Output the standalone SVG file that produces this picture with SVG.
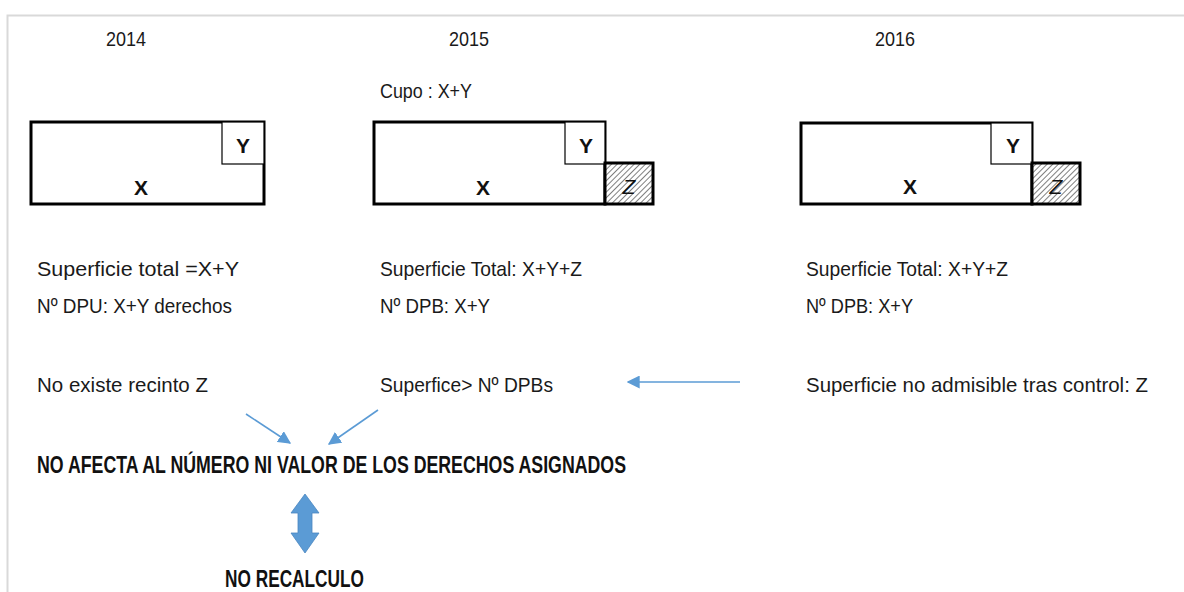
<svg xmlns="http://www.w3.org/2000/svg" width="1184" height="592" viewBox="0 0 1184 592">
<style>
.t{font-family:"Liberation Sans",Arial,sans-serif;font-size:21px;fill:#1a1a1a}
.b{font-family:"Liberation Sans",Arial,sans-serif;font-size:24px;font-weight:bold;fill:#111}
.lb{font-family:"Liberation Sans",Arial,sans-serif;font-size:21px;font-weight:bold;fill:#111;text-anchor:middle}
.outer{fill:#fff;stroke:#000;stroke-width:3}
.inner{fill:#fff;stroke:#000;stroke-width:1.2}
.hatch{fill:url(#hp);stroke:#000;stroke-width:3}
.conn{stroke:#5b9bd5;stroke-width:1.6;fill:none}
</style>
<defs>
<pattern id="hp" patternUnits="userSpaceOnUse" width="4" height="4" patternTransform="rotate(45)">
<rect width="4" height="4" fill="#fff"/>
<line x1="0" y1="0" x2="0" y2="4" stroke="#000" stroke-width="1"/>
</pattern>
<marker id="ah2" viewBox="0 0 10 10" refX="9" refY="5" markerWidth="13" markerHeight="13" markerUnits="userSpaceOnUse" orient="auto">
<path d="M0,0 L10,5 L0,10 Z" fill="#5b9bd5"/>
</marker>
</defs>
<rect width="1184" height="592" fill="#fff"/>
<path d="M7.5,592 V15.5 H1184" fill="none" stroke="#d9d9d9" stroke-width="2"/>

<g id="y2014">
<text class="t" x="106" y="46" textLength="40" lengthAdjust="spacingAndGlyphs">2014</text>
<rect class="outer" x="31" y="122" width="233" height="82"/>
<rect class="inner" x="222" y="122" width="42" height="42"/>
<text class="lb" x="243" y="153">Y</text>
<text class="lb" x="141" y="195">X</text>
<text class="t" x="37" y="276" textLength="202" lengthAdjust="spacingAndGlyphs">Superficie total =X+Y</text>
<text class="t" x="37" y="313" textLength="195" lengthAdjust="spacingAndGlyphs">Nº DPU: X+Y derechos</text>
<text class="t" x="37" y="392" textLength="171" lengthAdjust="spacingAndGlyphs">No existe recinto Z</text>
</g>

<g id="y2015">
<text class="t" x="449" y="46" textLength="40" lengthAdjust="spacingAndGlyphs">2015</text>
<text class="t" x="380" y="98" textLength="92" lengthAdjust="spacingAndGlyphs">Cupo : X+Y</text>
<rect class="outer" x="374" y="122" width="231" height="82"/>
<rect class="inner" x="565" y="122" width="40" height="42"/>
<rect class="hatch" x="605" y="163" width="48" height="41"/>
<text class="lb" x="586" y="153">Y</text>
<text class="lb" x="483" y="195">X</text>
<text class="lb" x="629" y="194" style="font-weight:normal;font-style:italic">Z</text>
<text class="t" x="380" y="276" textLength="202" lengthAdjust="spacingAndGlyphs">Superficie Total: X+Y+Z</text>
<text class="t" x="380" y="313" textLength="110" lengthAdjust="spacingAndGlyphs">Nº  DPB: X+Y</text>
<text class="t" x="380" y="392" textLength="173" lengthAdjust="spacingAndGlyphs">Superfice&gt; Nº DPBs</text>
</g>

<g id="y2016">
<text class="t" x="875" y="46" textLength="40" lengthAdjust="spacingAndGlyphs">2016</text>
<rect class="outer" x="801" y="123" width="231" height="81"/>
<rect class="inner" x="991" y="123" width="41" height="41"/>
<rect class="hatch" x="1032" y="163" width="48" height="41"/>
<text class="lb" x="1013" y="153">Y</text>
<text class="lb" x="910" y="194">X</text>
<text class="lb" x="1056" y="194" style="font-weight:normal;font-style:italic">Z</text>
<text class="t" x="806" y="276" textLength="202" lengthAdjust="spacingAndGlyphs">Superficie Total: X+Y+Z</text>
<text class="t" x="806" y="313" textLength="107" lengthAdjust="spacingAndGlyphs">Nº DPB: X+Y</text>
<text class="t" x="806" y="392" textLength="342" lengthAdjust="spacingAndGlyphs">Superficie no admisible tras control: Z</text>
</g>

<g id="result">
<text class="b" x="37" y="473" textLength="589" lengthAdjust="spacingAndGlyphs">NO AFECTA AL NÚMERO NI VALOR DE LOS DERECHOS ASIGNADOS</text>
</g>

<g id="norecalc">
<text class="b" x="225" y="587" textLength="139" lengthAdjust="spacingAndGlyphs">NO RECALCULO</text>
</g>

<g id="connectors">
<line class="conn" x1="740" y1="382" x2="628" y2="382" marker-end="url(#ah2)"/>
<line class="conn" x1="246" y1="414" x2="290" y2="443" marker-end="url(#ah2)"/>
<line class="conn" x1="378" y1="410" x2="329" y2="444" marker-end="url(#ah2)"/>
<path d="M305,494 L319,513 L312,513 L312,533 L319,533 L305,553 L291,533 L298,533 L298,513 L291,513 Z" fill="#5b9bd5" stroke="#4a87c0" stroke-width="0.8"/>
</g>
</svg>
